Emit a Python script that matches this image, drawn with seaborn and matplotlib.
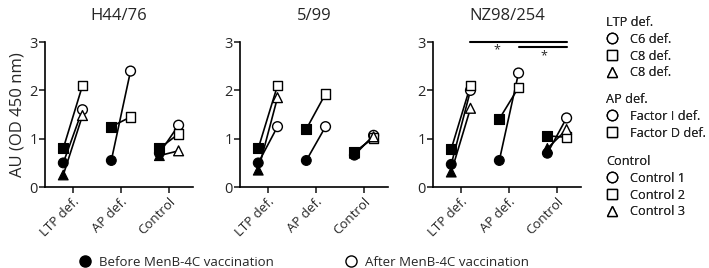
import numpy as np
import pandas as pd
import matplotlib
matplotlib.use("Agg")
import matplotlib.pyplot as plt
import seaborn as sns
from matplotlib.lines import Line2D

# Data
strains = ["H44/76", "5/99", "NZ98/254"]
groups = ["LTP def.", "AP def.", "Control"]
subject_labels = ["C6 def.", "C8 def.", "C8 def.", "Factor I def.", "Factor D def.",
                  "Control 1", "Control 2", "Control 3"]
subject_group = [0, 0, 0, 1, 1, 2, 2, 2]
subject_shape = ["o", "s", "^", "o", "s", "o", "s", "^"]

h44_before = [0.50, 0.80, 0.25, 0.55, 1.25, 0.70, 0.80, 0.65]
h44_after = [1.60, 2.10, 1.48, 2.40, 1.45, 1.28, 1.10, 0.75]
m599_before = [0.50, 0.80, 0.35, 0.55, 1.20, 0.66, 0.72, 0.70]
m599_after = [1.25, 2.10, 1.85, 1.25, 1.93, 1.07, 1.02, 1.04]
nz_before = [0.47, 0.79, 0.31, 0.55, 1.41, 0.70, 1.06, 0.80]
nz_after = [2.00, 2.10, 1.63, 2.36, 2.06, 1.43, 1.03, 1.19]

before_all = [h44_before, m599_before, nz_before]
after_all = [h44_after, m599_after, nz_after]

rows = []
for si, strain in enumerate(strains):
    for j in range(len(subject_labels)):
        for time, vals, off in [("before", before_all[si], -0.2), ("after", after_all[si], 0.2)]:
            rows.append({"strain": strain, "subject": j, "shape": subject_shape[j],
                         "time": time, "x": subject_group[j] + off, "value": vals[j]})
df = pd.DataFrame(rows)

sns.set_style("ticks")
plt.rcParams["font.family"] = ["Open Sans", "DejaVu Sans"]

fig = plt.figure(figsize=(7.09, 2.68), dpi=100)
lefts = [45 / 709, 240 / 709, 433 / 709]
axes = [fig.add_axes([l, 0.302, 148 / 709, 0.541]) for l in lefts]

marker_map = {"o": "o", "s": "s", "^": "^"}
for ax, strain in zip(axes, strains):
    d = df[df["strain"] == strain]
    sns.lineplot(data=d, x="x", y="value", units="subject", estimator=None, sort=False,
                 color="black", lw=1.2, legend=False, ax=ax, zorder=2)
    sns.scatterplot(data=d[d["time"] == "before"], x="x", y="value", style="shape",
                    markers=marker_map, color="black", edgecolor="black", s=50,
                    linewidth=0.8, legend=False, ax=ax, zorder=3)
    sns.scatterplot(data=d[d["time"] == "after"], x="x", y="value", style="shape",
                    markers=marker_map, color="white", edgecolor="black", s=50,
                    linewidth=1.0, legend=False, ax=ax, zorder=4)
    ax.set_xlim(-0.58, 2.5)
    ax.set_ylim(0, 3)
    ax.set_yticks([0, 1, 2, 3])
    ax.set_xticks([0, 1, 2])
    ax.set_xticklabels(groups, rotation=45, ha="right", rotation_mode="anchor", fontsize=9.5)
    ax.tick_params(axis="y", labelsize=10.5, width=1.2, length=4, pad=1)
    ax.tick_params(axis="x", width=1.2, length=4, pad=2)
    ax.set_xlabel("")
    ax.set_ylabel("")
    ax.set_title(strain, fontsize=12, pad=16)
    sns.despine(ax=ax)
    for s in ["left", "bottom"]:
        ax.spines[s].set_linewidth(1.2)
        ax.spines[s].set_color("black")

axes[0].set_ylabel("AU (OD 450 nm)", fontsize=12, labelpad=3)

# significance bars on NZ98/254
ax3 = axes[2]
ax3.plot([0.2, 2.2], [3.0, 3.0], color="black", lw=1.5, clip_on=False)
ax3.plot([1.22, 2.2], [2.89, 2.89], color="black", lw=1.5, clip_on=False)
ax3.text(0.75, 2.97, "*", ha="center", va="top", fontsize=9)
ax3.text(1.72, 2.86, "*", ha="center", va="top", fontsize=9)

# right legends
def shape_handle(m):
    return Line2D([], [], marker=m, linestyle="none", markerfacecolor="white",
                  markeredgecolor="black", markersize=7.5, markeredgewidth=1.0)

legend_blocks = [("LTP def.", [0, 1, 2], 1 - 16 / 268),
                 ("AP def.", [3, 4], 1 - 93 / 268),
                 ("Control", [5, 6, 7], 1 - 155 / 268)]
for title, idx, ytop in legend_blocks:
    leg = fig.legend([shape_handle(subject_shape[i]) for i in idx],
                     [subject_labels[i] for i in idx], title=title,
                     loc="upper left", bbox_to_anchor=(606 / 709, ytop), frameon=False,
                     fontsize=9.2, title_fontsize=9.2, handlelength=1.0,
                     handletextpad=0.9, labelspacing=0.3, borderpad=0,
                     borderaxespad=0, alignment="left")
    fig.add_artist(leg)

# bottom legend
bh = [Line2D([], [], marker="o", linestyle="none", markerfacecolor="black",
             markeredgecolor="black", markersize=8),
      Line2D([], [], marker="o", linestyle="none", markerfacecolor="white",
             markeredgecolor="black", markersize=8, markeredgewidth=1.0)]
fig.legend(bh, ["Before MenB-4C vaccination", "After MenB-4C vaccination"], ncol=2,
           loc="center left", bbox_to_anchor=(78 / 709, 1 - 262 / 268), frameon=False,
           fontsize=9.5, handlelength=1.0, handletextpad=0.6, columnspacing=5.3,
           borderpad=0, borderaxespad=0)

fig.savefig("out.png", dpi=100)
